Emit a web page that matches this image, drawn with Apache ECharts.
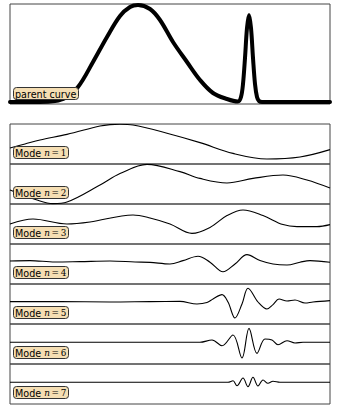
<!DOCTYPE html>
<html>
<head>
<meta charset="utf-8">
<script src="https://cdn.jsdelivr.net/npm/echarts@6/dist/echarts.min.js"></script>
<style>html,body{margin:0;padding:0;background:#fff;}#c{width:340px;height:408px;}</style>
</head>
<body>
<div id="c"></div>
<script>
// ---- data (x = sample position, 0..320) ----
const parentX = [0, 30, 45, 55, 68, 83, 97, 110, 120, 128, 140, 150, 163, 177, 190, 203, 217, 228, 231, 233, 235, 237, 239, 241, 243, 245, 247, 249, 252, 270, 320];
const parentCurve = [0.02, 0.02, 0.03, 0.06, 0.17, 0.42, 0.67, 0.88, 0.97, 0.99, 0.95, 0.84, 0.62, 0.42, 0.24, 0.11, 0.05, 0.025, 0.07, 0.2, 0.46, 0.76, 0.89, 0.76, 0.46, 0.2, 0.07, 0.03, 0.02, 0.02, 0.02];

const mode1X = [0, 15, 30, 57, 90, 100, 110, 123, 157, 190, 223, 257, 290, 320];
const mode1 = [-0.2, 0, 0.2, 0.48, 0.9, 0.97, 0.99, 0.95, 0.54, 0.07, -0.47, -0.75, -0.65, -0.28];

const mode2X = [0, 27, 43, 57, 90, 110, 137, 170, 190, 217, 243, 273, 297, 320];
const mode2 = [-0.3, -0.8, -0.98, -0.9, -0.05, 0.52, 0.98, 0.62, 0.28, 0.05, 0.28, 0.45, 0.2, -0.2];

const mode3X = [0, 23, 57, 80, 123, 140, 160, 182, 200, 217, 233, 253, 273, 287, 307, 320];
const mode3 = [0, 0.25, 0, 0.1, 0.45, 0.3, 0, -0.47, -0.17, 0.42, 0.7, 0.42, -0.03, -0.13, -0.13, -0.03];

const mode4X = [0, 20, 45, 70, 100, 125, 140, 160, 173, 188, 200, 213, 225, 237, 250, 263, 277, 290, 300, 320];
const mode4 = [0.15, 0.17, 0.1, 0.12, 0.15, 0.1, 0.08, 0, 0.17, 0.39, 0.09, -0.39, 0, 0.47, 0.17, 0, -0.05, 0.09, 0.17, 0.09];

const mode5X = [0, 50, 100, 140, 170, 187, 197, 203, 212, 218, 225, 232, 238, 248, 257, 263, 269, 277, 285, 295, 303, 320];
const mode5 = [0.12, 0.12, 0.1, 0.12, 0.13, 0, 0.07, 0.25, 0.47, 0.1, -0.7, 0, 0.79, 0.1, -0.25, -0.03, 0.25, 0.15, 0.2, 0.05, 0.1, 0.17];

const mode6X = [0, 170, 190, 202, 212, 223, 232, 239, 247, 255, 262, 268, 277, 285, 293, 320];
const mode6 = [0.085, 0.085, 0.085, 0.2, -0.085, 0.45, -0.7, 0.78, -0.47, 0.25, 0.2, -0.035, 0.165, 0.05, 0.085, 0.085];

const mode7X = [0, 218, 223, 227, 233, 238, 243, 248, 253, 258, 263, 270, 320];
const mode7 = [0.085, 0.085, 0.165, -0.085, 0.3, -0.135, 0.335, -0.1, 0.2, 0.035, 0.135, 0.085, 0.085];

const parentLabel = 'parent curve';
const modeNumbers = ['1', '2', '3', '4', '5', '6', '7'];

// ---- build option ----
const modeXs = [mode1X, mode2X, mode3X, mode4X, mode5X, mode6X, mode7X];
const modeYs = [mode1, mode2, mode3, mode4, mode5, mode6, mode7];
const pairs = (xs, ys) => xs.map((x, i) => [x, ys[i]]);

const grids = [{ left: 10, width: 320, top: 4, height: 100 }];
for (let i = 0; i < 7; i++) grids.push({ left: 10, width: 320, top: 124 + 40 * i, height: 40 });
grids.forEach(g => { g.show = true; g.borderColor = '#444'; g.borderWidth = 1; g.backgroundColor = 'transparent'; });

const xAxes = grids.map((g, i) => ({ type: 'value', gridIndex: i, min: 0, max: 320, show: false }));
const yAxes = grids.map((g, i) => i === 0
  ? { type: 'value', gridIndex: 0, min: 0, max: 1, show: false }
  : { type: 'value', gridIndex: i, min: -1, max: 1, show: false });

const series = [{
  type: 'line', xAxisIndex: 0, yAxisIndex: 0, data: pairs(parentX, parentCurve),
  showSymbol: false, smooth: 0.35, lineStyle: { color: '#000', width: 4, cap: 'round', join: 'round' }, silent: true
}];
modeYs.forEach((ys, i) => series.push({
  type: 'line', xAxisIndex: i + 1, yAxisIndex: i + 1, data: pairs(modeXs[i], ys),
  showSymbol: false, smooth: 0.35, lineStyle: { color: '#000', width: 1.1 }, silent: true
}));

const boxStyle = {
  backgroundColor: '#f5deb3', borderColor: '#333', borderWidth: 1, borderRadius: 3, padding: [1, 2, 0, 2], z: 10
};
const titles = [Object.assign({
  text: parentLabel, left: 13, top: 87,
  textStyle: { fontFamily: 'DejaVu Sans', fontSize: 9.6, fontWeight: 'normal', color: '#000', lineHeight: 12 }
}, boxStyle)];
modeNumbers.forEach((n, i) => titles.push(Object.assign({
  text: '{t|Mode }{n|n}{e|\u2009=\u2009' + n + '}',
  left: 13, top: 124 + 40 * i + 22,
  textStyle: {
    fontWeight: 'normal', lineHeight: 12,
    rich: {
      t: { fontFamily: 'DejaVu Sans', fontSize: 9.6, color: '#000', fontWeight: 'normal', lineHeight: 12 },
      n: { fontFamily: 'DejaVu Serif', fontStyle: 'italic', fontSize: 8.8, color: '#000', fontWeight: 'normal', lineHeight: 12 },
      e: { fontFamily: 'DejaVu Serif', fontSize: 8.8, color: '#000', fontWeight: 'normal', lineHeight: 12 }
    }
  }
}, boxStyle)));

const chart = echarts.init(document.getElementById('c'), null, { renderer: 'svg' });
chart.setOption({
  animation: false,
  backgroundColor: '#fff',
  title: titles,
  grid: grids,
  xAxis: xAxes,
  yAxis: yAxes,
  series: series
});
</script>
</body>
</html>
